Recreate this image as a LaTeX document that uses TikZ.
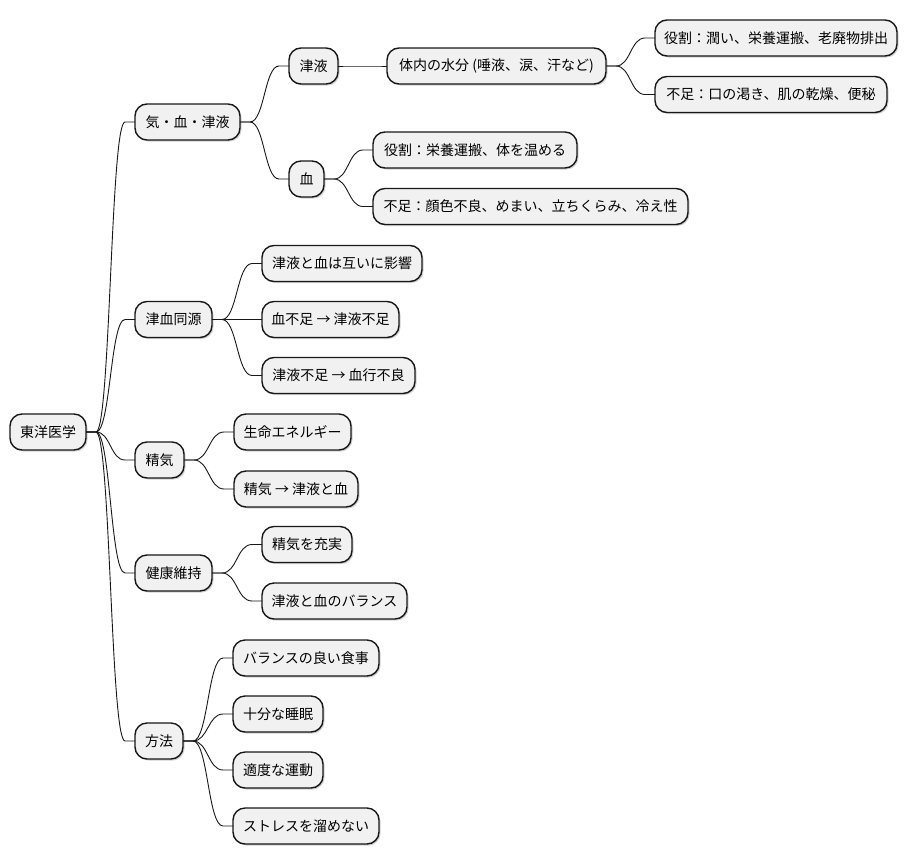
\documentclass[tikz,border=0pt]{standalone}
\usepackage{fontspec}
\setmainfont{Noto Sans CJK JP}
\usetikzlibrary{calc,shadows}
\definecolor{mmfill}{HTML}{F1F1F1}
\definecolor{mmline}{HTML}{181818}
\tikzset{
  mm/.style={draw=mmline, line width=1.4pt, fill=mmfill, rounded corners=12pt,
    minimum height=36pt, inner sep=0pt, outer sep=0pt, anchor=west, align=center,
    font=\fontsize{14pt}{16pt}\selectfont, text=black,
    drop shadow={shadow xshift=1.5pt, shadow yshift=-1.5pt, opacity=0.18, fill=black}},
  edge/.style={draw=mmline, line width=0.9pt}
}
\newcommand\mmlink[2]{\draw[edge] let \p1=(#1.east), \p2=(#2.west), \n1={(\x2-\x1-20pt)/2} in
  (\p1) -- ($(\p1)+(10pt,0pt)$) .. controls ($(\p1)+(10pt+\n1,0pt)$) and ($(\p2)+(-10pt-\n1,0pt)$) .. ($(\p2)+(-10pt,0pt)$) -- (\p2);}
\begin{document}
\begin{tikzpicture}[x=1pt,y=-1pt]
\useasboundingbox[fill=white] (0,0) rectangle (910,865);
\node[mm, minimum width=76pt] (root) at (10,432) {東洋医学};
\node[mm, minimum width=105pt] (k1) at (135,122) {気・血・津液};
\node[mm, minimum width=49pt] (k1a) at (289,66) {津液};
\node[mm, minimum width=219pt] (k1a1) at (387,66) {体内の水分 (唾液、涙、汗など)};
\node[mm, minimum width=242pt] (k1a1a) at (655,38) {役割：潤い、栄養運搬、老廃物排出};
\node[mm, minimum width=232pt] (k1a1b) at (655,94.5) {不足：口の渇き、肌の乾燥、便秘};
\node[mm, minimum width=35pt] (k1b) at (289,179) {血};
\node[mm, minimum width=204pt] (k1b1) at (373,150) {役割：栄養運搬、体を温める};
\node[mm, minimum width=315pt] (k1b2) at (373,206.5) {不足：顔色不良、めまい、立ちくらみ、冷え性};
\node[mm, minimum width=77pt] (k2) at (135,319.5) {津血同源};
\node[mm, minimum width=160pt] (k2a) at (262,263.5) {津液と血は互いに影響};
\node[mm, minimum width=137pt] (k2b) at (262,319.5) {血不足 → 津液不足};
\node[mm, minimum width=153pt] (k2c) at (262,375.5) {津液不足 → 血行不良};
\node[mm, minimum width=49pt] (k3) at (135,460) {精気};
\node[mm, minimum width=117pt] (k3a) at (234,432) {生命エネルギー};
\node[mm, minimum width=124pt] (k3b) at (234,489) {精気 → 津液と血};
\node[mm, minimum width=77pt] (k4) at (135,573) {健康維持};
\node[mm, minimum width=90pt] (k4a) at (262,544.5) {精気を充実};
\node[mm, minimum width=145pt] (k4b) at (262,601) {津液と血のバランス};
\node[mm, minimum width=48pt] (k5) at (135,741) {方法};
\node[mm, minimum width=146pt] (k5a) at (233,658) {バランスの良い食事};
\node[mm, minimum width=90pt] (k5b) at (233,714) {十分な睡眠};
\node[mm, minimum width=90pt] (k5c) at (233,770) {適度な運動};
\node[mm, minimum width=146pt] (k5d) at (233,826) {ストレスを溜めない};
\mmlink{root}{k1}\mmlink{root}{k2}\mmlink{root}{k3}\mmlink{root}{k4}\mmlink{root}{k5}
\mmlink{k1}{k1a}\mmlink{k1}{k1b}
\mmlink{k1a}{k1a1}
\mmlink{k1a1}{k1a1a}\mmlink{k1a1}{k1a1b}
\mmlink{k1b}{k1b1}\mmlink{k1b}{k1b2}
\mmlink{k2}{k2a}\mmlink{k2}{k2b}\mmlink{k2}{k2c}
\mmlink{k3}{k3a}\mmlink{k3}{k3b}
\mmlink{k4}{k4a}\mmlink{k4}{k4b}
\mmlink{k5}{k5a}\mmlink{k5}{k5b}\mmlink{k5}{k5c}\mmlink{k5}{k5d}
\end{tikzpicture}
\end{document}
